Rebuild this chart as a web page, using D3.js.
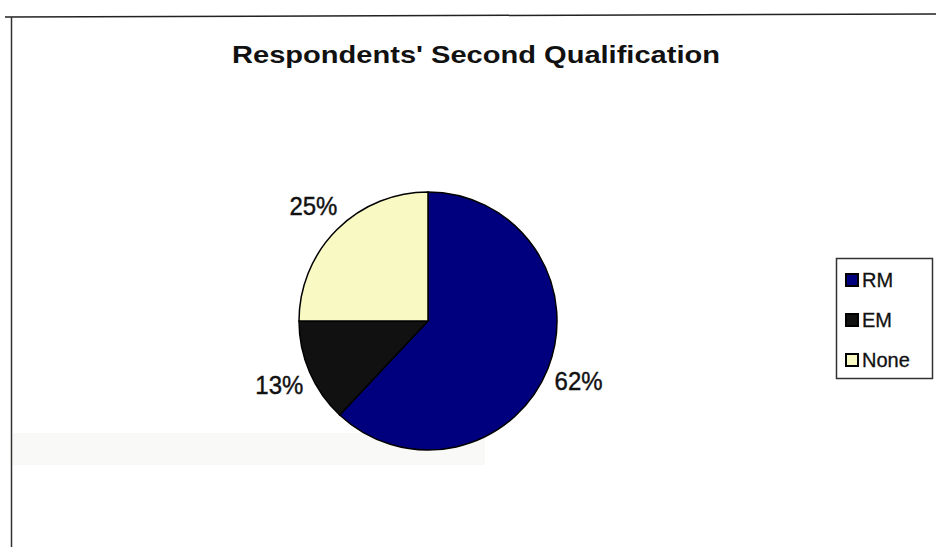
<!DOCTYPE html>
<html><head><meta charset="utf-8">
<script src="https://cdn.jsdelivr.net/npm/d3@7/dist/d3.min.js"></script>
<style>body{margin:0;background:#fff;}svg{display:block;}</style>
</head><body>
<svg id="c" width="936" height="547"></svg>
<script>
const categories = ["RM", "EM", "None"];
const values = [62, 13, 25];
const labels = ["62%", "13%", "25%"];
const colors = ["#00007f", "#111111", "#f9f9c4"];
const title = "Respondents' Second Qualification";

const svg = d3.select("#c");
const font = "'Liberation Sans', Arial, sans-serif";

// frame
svg.append("line").attr("x1",5).attr("y1",17).attr("x2",936).attr("y2",14).attr("stroke","#222").attr("stroke-width",1.5);
svg.append("line").attr("x1",11.5).attr("y1",17).attr("x2",11.5).attr("y2",547).attr("stroke","#333").attr("stroke-width",1.5);
// faint scan band
svg.append("rect").attr("x",13).attr("y",433).attr("width",472).attr("height",32).attr("fill","#f9f9f7");

svg.append("text").attr("x",476).attr("y",63).attr("text-anchor","middle")
  .attr("font-family",font).attr("font-weight","bold").attr("font-size",24)
  .attr("textLength",488).attr("lengthAdjust","spacingAndGlyphs").attr("fill","#111").text(title);

const cx = 428, cy = 321, r = 129;
const pie = d3.pie().sort(null).value(d => d.v);
const data = pie(categories.map((c,i)=>({c, v: values[i], l: labels[i], col: colors[i]})));
const arc = d3.arc().innerRadius(0).outerRadius(r);
const lab = d3.arc().innerRadius(162).outerRadius(162);
const g = svg.append("g").attr("transform",`translate(${cx},${cy})`);
g.selectAll("path").data(data).join("path").attr("d",arc)
  .attr("fill",d=>d.data.col).attr("stroke","#000").attr("stroke-width",1.5);
g.selectAll("text").data(data).join("text")
  .attr("transform",d=>`translate(${lab.centroid(d)})`)
  .attr("text-anchor","middle").attr("dy","0.36em")
  .attr("font-family",font).attr("font-size",25).attr("textLength",48).attr("lengthAdjust","spacingAndGlyphs")
  .attr("fill","#111").attr("stroke","#111").attr("stroke-width",0.4).text(d=>d.data.l);

// legend
const lg = svg.append("g");
lg.append("rect").attr("x",836.5).attr("y",258.5).attr("width",96).attr("height",120)
  .attr("fill","#fff").attr("stroke","#333").attr("stroke-width",1.5);
const ly = d3.scalePoint().domain(categories).range([280, 360]);
categories.forEach((c,i)=>{
  lg.append("rect").attr("x",846).attr("y",ly(c)-6).attr("width",12).attr("height",12)
    .attr("fill",colors[i]).attr("stroke","#000").attr("stroke-width",2);
  lg.append("text").attr("x",862).attr("y",ly(c)).attr("dy","0.36em")
    .attr("font-family",font).attr("font-size",20).attr("fill","#111")
    .attr("stroke","#111").attr("stroke-width",0.3).text(c);
});
</script>
</body></html>
